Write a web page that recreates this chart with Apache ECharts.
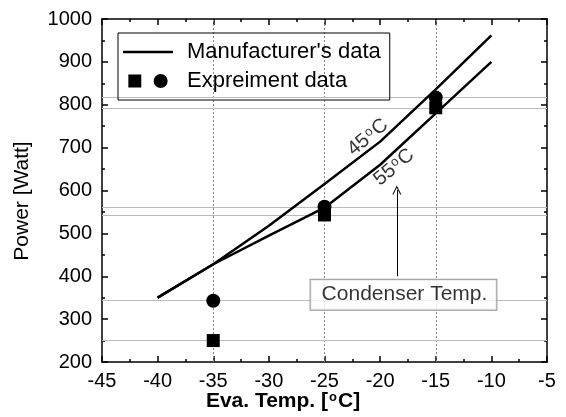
<!DOCTYPE html>
<html>
<head>
<meta charset="utf-8">
<script src="https://cdn.jsdelivr.net/npm/echarts@6/dist/echarts.min.js"></script>
<style>
  html, body { margin: 0; padding: 0; background: #fff; }
  #chart { width: 566px; height: 417px; }
</style>
</head>
<body>
<div id="chart"></div>
<script>
// ---- data
var evaTemp = [-40, -35, -30, -25, -20, -15, -10];
var maker45 = [350, 428, 518, 615, 714, 836, 962];
var maker55 = [350, 428, 495, 560, 660, 780, 900];

var expTemp = [-35, -25, -15];
var expSquare = [250, 543, 793];
var expCircle = [343, 562, 817];

var xTicks = [-45, -40, -35, -30, -25, -20, -15, -10, -5];
var yTicks = [200, 300, 400, 500, 600, 700, 800, 900, 1000];

var arrowFrom = [-18.5, 400];
var arrowTo = [-18.5, 601];
var boxAt = [-17.9, 357];
var label45At = [-21.1, 724];
var label55At = [-18.75, 654];

function pairs(xs, ys) {
    return xs.map(function (x, i) { return [x, ys[i]]; });
}

var FONT = 'Liberation Sans, Arial, sans-serif';
var sq = 'path://M0,1H12V13H0Z M23.5,7A6.5,6.5 0 1,0 36.5,7A6.5,6.5 0 1,0 23.5,7Z';
var chevron = 'path://M0,10L5,0L10,10L8.8,10L5,2.4L1.2,10Z';

var degRich = {
    n: { fontFamily: FONT, fontSize: 20, color: '#000' },
    s: { fontFamily: FONT, fontSize: 13, color: '#000', verticalAlign: 'top', padding: [0, 1, 0, 1] }
};
function degText(n) {
    return '{n|' + n + '}{s|o}{n|C}';
}

var chart = echarts.init(document.getElementById('chart'));

// fresh axis object each time (inside ticks, mirrored frame)
function frameAxis(extra) {
    var a = {
        type: 'value',
        axisLine: { show: true, onZero: false, lineStyle: { color: '#000', width: 1.5 } },
        axisTick: { show: true, inside: true, length: 6, lineStyle: { color: '#000', width: 1.5 } },
        minorTick: { show: true, splitNumber: 2, length: 3, lineStyle: { color: '#000', width: 1.5 } },
        splitLine: { show: false }
    };
    for (var k in extra) a[k] = extra[k];
    return a;
}

var option = {
    animation: false,
    backgroundColor: '#fff',
    grid: { left: 102, right: 19, top: 19, bottom: 55 },
    // axis titles
    title: [
        {
            text: '{t|Eva. Temp. [}{s|o}{t|C]}',
            left: 'center', top: 391, padding: 0,
            textStyle: {
                rich: {
                    t: { fontFamily: FONT, fontSize: 21, color: '#000' },
                    s: { fontFamily: FONT, fontSize: 13, color: '#000', verticalAlign: 'top', padding: [0, 1, 0, 1] }
                }
            }
        }
    ],
    graphic: [
        {
            type: 'text', x: 22, y: 201, rotation: Math.PI / 2,
            style: {
                text: 'Power [Watt]', fontFamily: FONT, fontSize: 21, fill: '#000',
                align: 'center', verticalAlign: 'middle'
            }
        }
    ],
    legend: {
        orient: 'vertical',
        left: 118,
        top: 33,
        itemWidth: 50,
        itemHeight: 14,
        itemGap: 7,
        padding: [8, 9, 8, 5],
        borderColor: '#000',
        borderWidth: 1,
        selectedMode: false,
        itemStyle: { borderWidth: 0, opacity: 1 },
        textStyle: { fontFamily: FONT, fontSize: 22, color: '#000', padding: [0, 0, 0, 9] },
        data: [
            { name: "Manufacturer's data", icon: 'path://M0,0H50V2.5H0Z' },
            { name: 'Expreiment data', icon: sq }
        ]
    },
    xAxis: [
        frameAxis({
            min: xTicks[0], max: xTicks[xTicks.length - 1], interval: 5,
            axisLabel: { fontFamily: FONT, fontSize: 20, color: '#000', margin: 9 }
        }),
        frameAxis({
            position: 'top', min: xTicks[0], max: xTicks[xTicks.length - 1], interval: 5,
            axisLabel: { show: false }
        })
    ],
    yAxis: [
        frameAxis({
            min: yTicks[0], max: yTicks[yTicks.length - 1], interval: 100,
            axisLabel: {
                fontFamily: FONT, fontSize: 20, color: '#000', margin: 10,
                formatter: function (v) { return String(v); }
            }
        }),
        frameAxis({
            position: 'right', min: yTicks[0], max: yTicks[yTicks.length - 1], interval: 100,
            axisLabel: { show: false }
        })
    ],
    series: [
        {
            name: "Manufacturer's data",
            type: 'line',
            symbol: 'none',
            color: '#000',
            lineStyle: { color: '#000', width: 2.5 },
            data: pairs(evaTemp, maker45),
            z: 3,
            // reference lines through the experiment points
            markLine: {
                silent: true,
                symbol: 'none',
                z: 1,
                label: { show: false },
                data: expTemp.map(function (t) {
                    return { xAxis: t, lineStyle: { color: '#888', type: [2, 2], width: 1 } };
                }).concat(expSquare.concat(expCircle).map(function (v) {
                    return { yAxis: v, lineStyle: { color: '#bbb', type: 'solid', width: 1 } };
                }))
            }
        },
        {
            name: "Manufacturer's data",
            type: 'line',
            symbol: 'none',
            color: '#000',
            lineStyle: { color: '#000', width: 2.5 },
            data: pairs(evaTemp, maker55),
            z: 3,
            markLine: {
                silent: true,
                symbol: ['none', chevron],
                symbolSize: [9, 9],
                z: 4,
                label: { show: false },
                lineStyle: { color: '#000', type: 'solid', width: 1 },
                data: [[{ coord: arrowFrom }, { coord: arrowTo }]]
            }
        },
        {
            name: 'Expreiment data',
            type: 'scatter',
            symbol: 'rect',
            symbolSize: 13,
            color: '#000',
            itemStyle: { color: '#000', opacity: 1 },
            data: pairs(expTemp, expSquare),
            z: 5
        },
        {
            name: 'Expreiment data',
            type: 'scatter',
            symbol: 'circle',
            symbolSize: 14,
            color: '#000',
            itemStyle: { color: '#000', opacity: 1 },
            data: pairs(expTemp, expCircle),
            z: 5
        },
        {
            // text notes, placed in data coordinates
            name: 'notes',
            type: 'scatter',
            silent: true,
            symbol: 'circle',
            symbolSize: 1,
            itemStyle: { color: 'rgba(0,0,0,0)' },
            z: 10,
            label: { show: true, position: 'inside' },
            data: [
                { value: label45At, label: { rotate: 40, formatter: degText(45), rich: degRich } },
                { value: label55At, label: { rotate: 40, formatter: degText(55), rich: degRich } },
                {
                    value: boxAt,
                    label: {
                        formatter: 'Condenser Temp.',
                        fontFamily: FONT, fontSize: 21, color: '#000',
                        backgroundColor: '#fff', borderColor: '#777', borderWidth: 1,
                        padding: [5, 9, 4, 11]
                    }
                }
            ]
        }
    ]
};
chart.setOption(option);
</script>
</body>
</html>
